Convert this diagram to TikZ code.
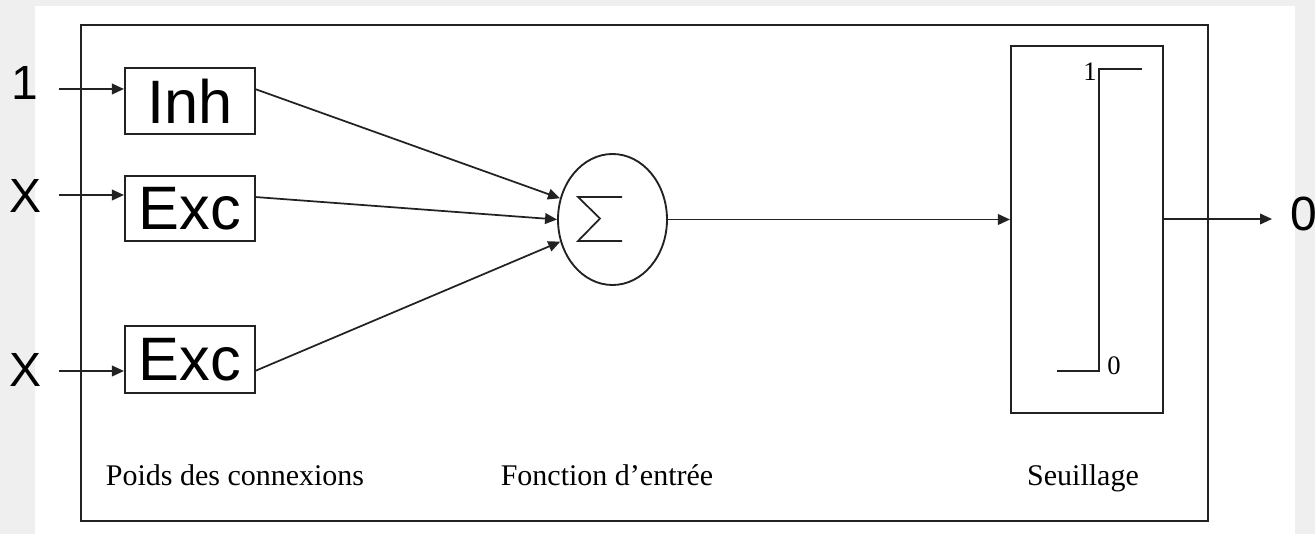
\documentclass[tikz,border=0pt]{standalone}
\usepackage{fontspec}
\setmainfont{Liberation Serif}
\newfontfamily\arialf{Liberation Sans}
\usetikzlibrary{shapes.geometric,arrows.meta}
\definecolor{bgray}{HTML}{EFEFEF}
\definecolor{ink}{HTML}{222222}
\begin{document}
\begin{tikzpicture}[x=0.75pt,y=-0.75pt,
  frame/.style={draw=ink,line width=1.6pt},
  wbox/.style={draw=ink,line width=1.6pt,rectangle,inner sep=0pt,minimum width=97.5pt,minimum height=49pt,font=\arialf\fontsize{46}{46}\selectfont,text=black},
  conn/.style={draw=ink,line width=1.3pt,-{Triangle[length=9pt,width=8pt]}},
  plain/.style={draw=ink,line width=1.3pt},
  inlab/.style={font=\arialf\fontsize{36}{36}\selectfont,text=black,inner sep=0pt},
  caplab/.style={font=\fontsize{22.5}{22.5}\selectfont,text=black,inner sep=0pt,anchor=base},
  steplab/.style={font=\fontsize{20}{20}\selectfont,text=black,inner sep=0pt}]
\useasboundingbox (0,0) rectangle (1315,534);
\fill[bgray] (0,0) rectangle (1315,534);
\fill[white] (35,6) rectangle (1295,534);
% outer frame
\draw[frame] (81,25) rectangle (1208,521);
% weight boxes
\node[wbox] (inh) at (190,101) {Inh};
\node[wbox] (exa) at (190,208.5) {Exc};
\node[wbox,minimum height=50pt] (exb) at (190,359.5) {Exc};
% input labels
\node[inlab] (l1) at (25,83) {1};
\node[inlab] (lx1) at (26,196) {X};
\node[inlab] (lx2) at (26,370) {X};
\coordinate (s1) at (59,89);
\coordinate (s2) at (59,195);
\coordinate (s3) at (59,371);
\draw[conn] (s1) -- (s1 -| inh.west);
\draw[conn] (s2) -- (s2 -| exa.west);
\draw[conn] (s3) -- (s3 -| exb.west);
% summation
\node[draw=ink,line width=1.4pt,ellipse,inner sep=0pt,minimum width=81.75pt,minimum height=98.25pt] (sum) at (612.5,219.5) {};
\draw[plain,line join=miter] ([shift={(9.5,-22.5)}]sum.center) -- ([shift={(-34.5,-22.5)}]sum.center) -- ([shift={(-12.5,-1)}]sum.center) -- ([shift={(-34.5,21.5)}]sum.center) -- ([shift={(9.5,21.5)}]sum.center);
\coordinate (ia) at (255,89);
\coordinate (ib) at (255,197);
\coordinate (ic) at (255,371);
\draw[conn] (ia) -- (sum.158);
\draw[conn] (ib) -- (sum.west);
\draw[conn] (ic) -- (sum.203);
% threshold box
\node[frame,rectangle,inner sep=0pt,minimum width=114pt,minimum height=275.25pt] (thr) at (1087,229.5) {};
\draw[conn] (sum.east) -- (sum.east -| thr.west);
\draw[plain,line width=1.5pt] (1142,69) -- (1099,69) -- (1099,371) -- (1057,371);
\node[steplab] (st1) at (1090,72) {1};
\node[steplab] (st0) at (1114,366) {0};
% output
\coordinate (oc) at (1272,219);
\draw[conn] (thr.east |- oc) -- (oc);
\node[inlab] (lo) at (1304,214) {0};
% captions
\node[caplab] (c1) at (235,486) {Poids des connexions};
\node[caplab] (c2) at (607,486) {Fonction d’entrée};
\node[caplab] (c3) at (1083,486) {Seuillage};
\end{tikzpicture}
\end{document}
